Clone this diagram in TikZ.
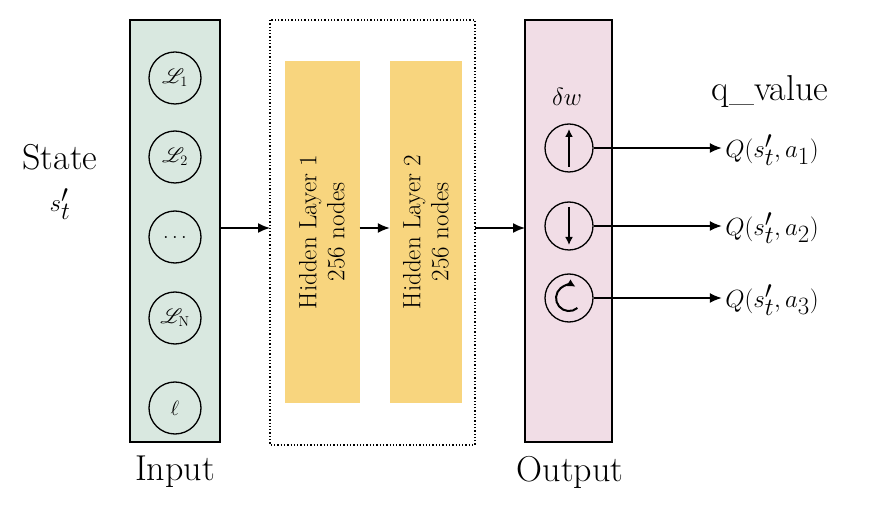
\documentclass[tikz,border=0pt]{standalone}
\usepackage{mathrsfs}
\usetikzlibrary{arrows.meta}
\definecolor{ingreen}{HTML}{D9E8E0}
\definecolor{outpink}{HTML}{F1DDE6}
\definecolor{hidorange}{HTML}{F8D57E}
\tikzset{
  cell/.style={circle,draw,line width=1.3pt,minimum size=52pt,inner sep=0pt,font=\fontsize{20}{22}\selectfont},
  ocell/.style={circle,draw,line width=1.3pt,minimum size=48pt,inner sep=0pt},
  lbl/.style={font=\fontsize{36}{40}\selectfont},
  conn/.style={line width=1.6pt,-{Latex[length=12pt,width=10pt]}}
}
\begin{document}
\begin{tikzpicture}[x=1pt,y=-1pt]
\useasboundingbox (0,0) rectangle (878,526);
% boxes
\draw[line width=1.5pt,fill=ingreen] (130,20) rectangle (220,442);
\draw[line width=1.3pt,dotted] (270,20) rectangle (475,445);
\draw[line width=1.5pt,fill=outpink] (525,20) rectangle (612,442);
\node[fill=hidorange,minimum width=75pt,minimum height=341pt,inner sep=0pt] (h1) at (322,232) {};
\node[fill=hidorange,minimum width=72pt,minimum height=341pt,inner sep=0pt] (h2) at (426,232) {};
\node[rotate=90,align=center,font=\fontsize{25}{28}\selectfont] at (h1) {Hidden Layer 1\\256 nodes};
\node[rotate=90,align=center,font=\fontsize{25}{28}\selectfont] at (h2) {Hidden Layer 2\\256 nodes};
% input cells
\node[cell] (i1) at (175,78) {$\mathscr{L}_1$};
\node[cell] (i2) at (175,157) {$\mathscr{L}_2$};
\node[cell] (i3) at (175,237) {$\dots$};
\node[cell] (i4) at (175,318) {$\mathscr{L}_{\mathrm{N}}$};
\node[cell] (i5) at (175,408) {$\ell$};
% output cells
\node[lbl] at (567,97) {$\delta w$};
\node[ocell] (o1) at (569,148) {};
\node[ocell] (o2) at (569,226) {};
\node[ocell] (o3) at (569,298) {};
\draw[line width=2pt,-{Latex[length=8pt,width=8pt]}] (569,167) -- (569,129);
\draw[line width=2pt,-{Latex[length=8pt,width=8pt]}] (569,207) -- (569,245);
\draw[line width=2pt,-{Latex[length=8pt,width=8pt]}] (577.4,308) arc (50:300:13);
% labels
\node[lbl,align=center] at (60,182) {State\\[2pt]$s'_t$};
\node[lbl] at (175,472) {Input};
\node[lbl] at (570,472) {Output};
\node[lbl] at (770,92) {q\_value};
\node[lbl] (q1) at (772,150) {$Q(s'_t,a_1)$};
\node[lbl] (q2) at (772,228) {$Q(s'_t,a_2)$};
\node[lbl] (q3) at (772,300) {$Q(s'_t,a_3)$};
% connectors
\coordinate (inR) at (220,228);
\coordinate (dotL) at (270,228);
\coordinate (dotR) at (475,228);
\coordinate (outL) at (525,228);
\draw[conn] (inR) -- (dotL);
\draw[conn] (h1.east |- 0,228) -- (h2.west |- 0,228);
\draw[conn] (dotR) -- (outL);
\draw[conn] (o1.east) -- (o1.east -| q1.west);
\draw[conn] (o2.east) -- (o2.east -| q2.west);
\draw[conn] (o3.east) -- (o3.east -| q3.west);
\end{tikzpicture}
\end{document}
